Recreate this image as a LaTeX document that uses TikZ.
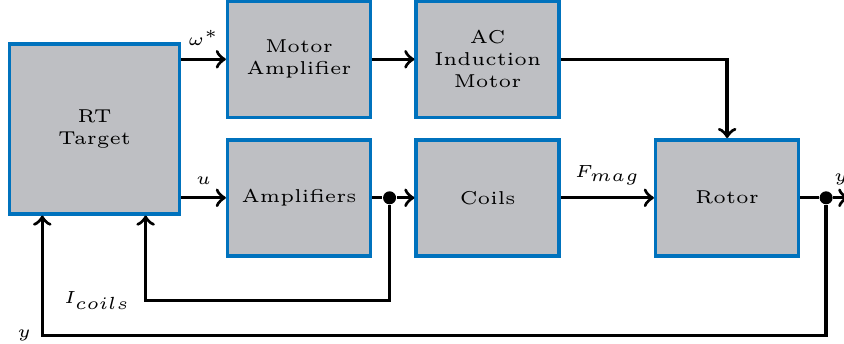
\documentclass[tikz,border=0pt]{standalone}
\usepackage{amsmath,amssymb}
\usepackage{xcolor}
\usepackage{tikz}
\usetikzlibrary{arrows,positioning,calc}

\definecolor{blockblue}{RGB}{0,114,189}
\definecolor{blockgray}{RGB}{190,191,195}

\begin{document}
\begin{tikzpicture}[
    font=\fontsize{5}{6.25}\selectfont,
    block/.style={rectangle, draw=blockblue, line width=1pt, fill=blockgray, align=center, minimum width=1.43cm, minimum height=1.16cm, font=\fontsize{5.3}{6.25}\selectfont},
    bigblock/.style={block, minimum width=1.70cm, minimum height=1.70cm},
    dot/.style={circle, fill, inner sep=0pt, minimum size=0.13cm},
    line/.style={line width=0.95pt, ->}
]

\useasboundingbox (-0.946,-2.142) rectangle (7.494,1.288);

% Blocks
\node[bigblock] (rt) {RT\\Target};
\node[block, right=0.445cm of rt, yshift=-0.69cm] (amp) {Amplifiers};
\node[block, above=0.19cm of amp] (motoramp) {Motor\\Amplifier};
\node[block, right=0.42cm of amp] (coils) {Coils};
\node[block, right=0.42cm of motoramp] (acmotor) {AC\\Induction\\Motor};
\node[block, right=0.93cm of coils] (rotor) {Rotor};

% Branch points
\node[dot, right=0.10cm of amp] (ampdot) {};
\node[dot, right=0.185cm of rotor] (ydot) {};
\coordinate[right=0.15cm of ydot] (yout);
\coordinate (icorner) at ($(rt.south)+(0.51,-0.85)$);
\coordinate (ycorner) at ($(rt.south)+(-0.523,-1.202)$);

% Forward path
\draw[line] (motoramp.west -| rt.east) -- (motoramp) node[midway, above] {$\omega^*$};
\draw[line] (motoramp) -- (acmotor);
\draw[line] (acmotor) -| (rotor);
\draw[line] (amp.west -| rt.east) -- (amp) node[midway, above] {$u$};
\draw[line width=0.95pt] (amp) -- (ampdot);
\draw[line] (ampdot) -- (coils);
\draw[line] (coils) -- (rotor) node[midway, above] {$F_{mag}$};
\draw[line width=0.95pt] (rotor) -- (ydot);
\draw[line] (ydot) -- (yout) node[midway, above] {$y$};

% Feedback
\draw[line] (ampdot) |- (icorner) node[left=0.02cm] {$I_{coils}$} -- (icorner |- rt.south);
\draw[line] (ydot) |- (ycorner) node[left=-0.02cm] {$y$} -- (ycorner |- rt.south);

\end{tikzpicture}
\end{document}
